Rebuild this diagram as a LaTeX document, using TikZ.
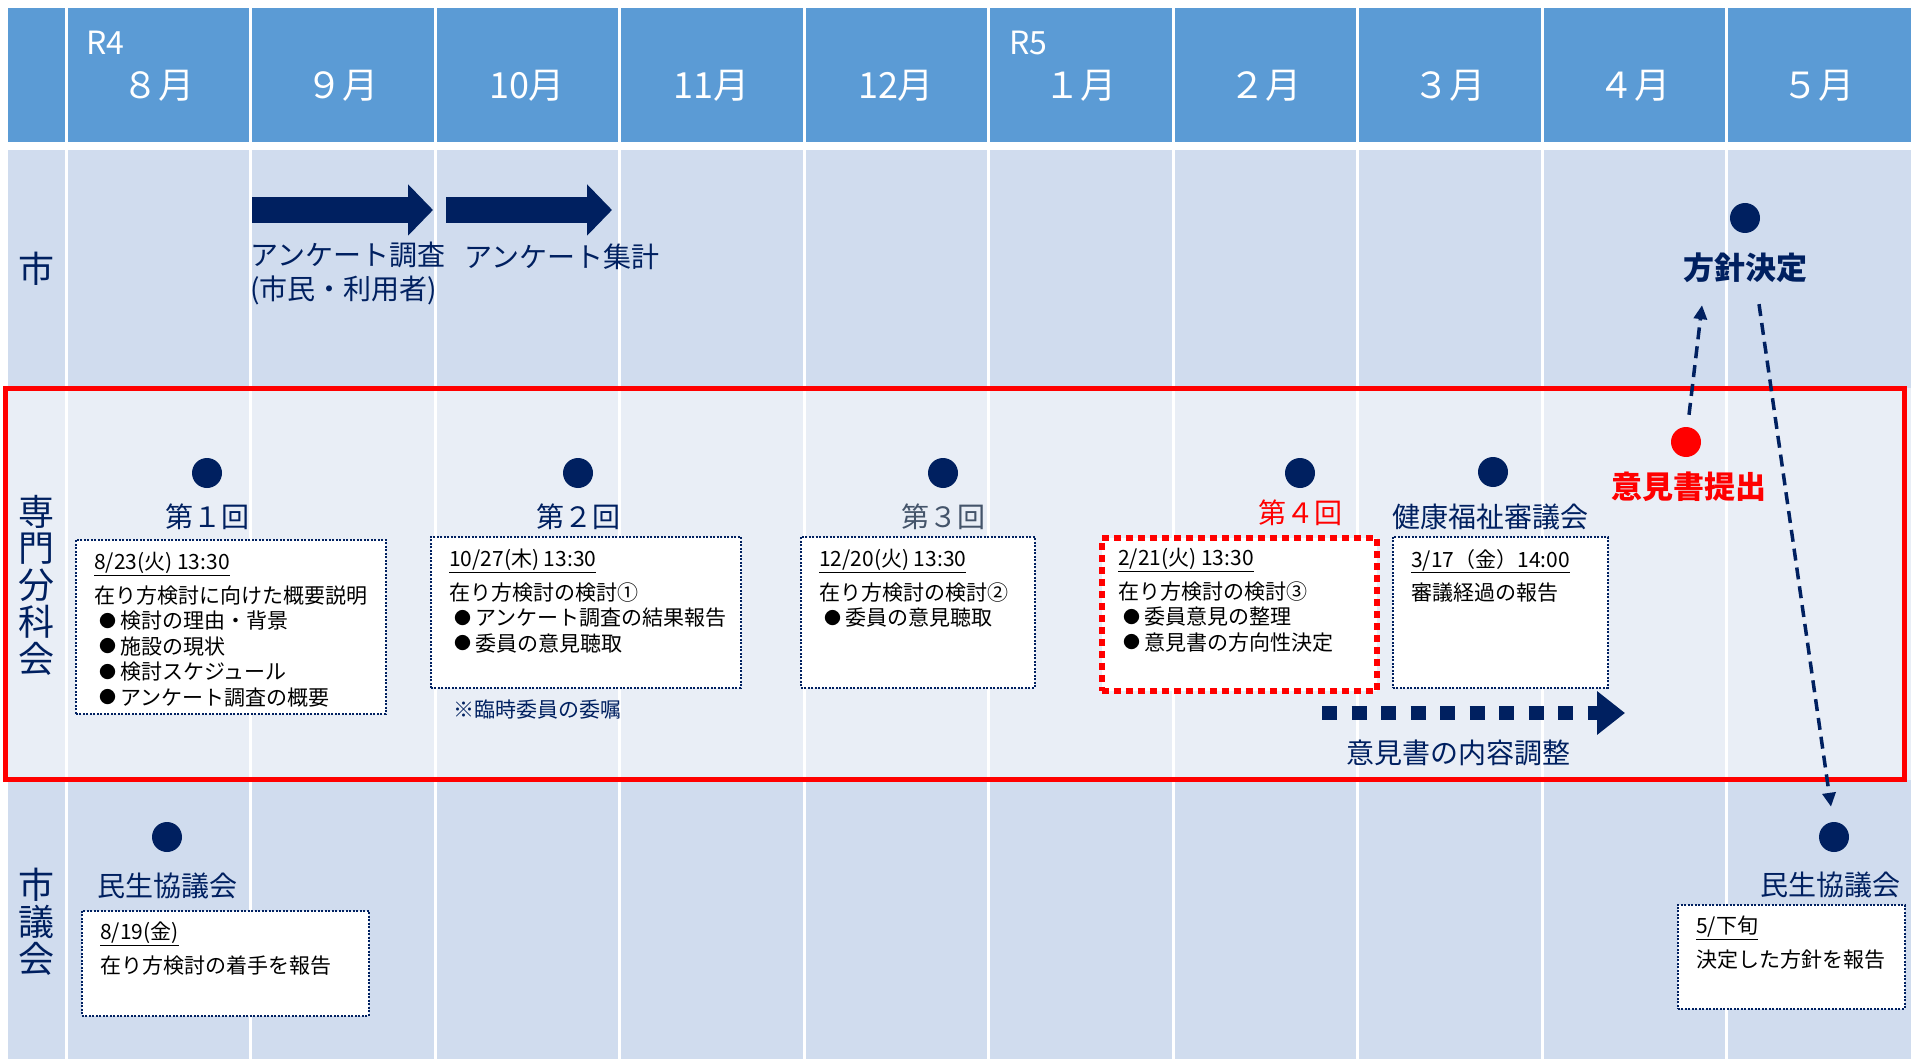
\documentclass[tikz,border=0pt]{standalone}
\usepackage{fontspec}
\setmainfont{Noto Sans CJK JP}
\usetikzlibrary{arrows.meta, calc}

\definecolor{navy}{HTML}{002060}
\definecolor{headblue}{HTML}{5B9BD5}
\definecolor{rowpale}{HTML}{D0DCEE}
\definecolor{rowlight}{HTML}{E9EEF6}
\definecolor{slate}{HTML}{44546A}

\newcommand{\itemdot}{\hspace*{5pt}\raisebox{1.5pt}{\fontsize{17}{17}\selectfont●}\hspace{4pt}}

\begin{document}
\begin{tikzpicture}[x=1pt, y=-1pt,
    month/.style={text=white, inner sep=0pt, font=\fontsize{36}{36}\selectfont},
    rowname/.style={text=navy, align=center, inner sep=0pt, font=\fontsize{36}{36.8}\selectfont},
    dot/.style={circle, fill=navy, minimum size=30pt, inner sep=0pt},
    tag/.style={text=navy, inner sep=0pt, font=\fontsize{28}{34}\selectfont},
    bigtag/.style={inner sep=0pt, font=\fontsize{31}{31}\selectfont\bfseries},
    memo/.style={draw=navy, line width=1.5pt, dash pattern=on 2pt off 1.5pt, fill=white, anchor=north west, inner sep=0pt},
    memored/.style={memo, draw=red, line width=5.5pt, dash pattern=on 7pt off 5pt},
    memotext/.style={anchor=north west, align=left, inner sep=0pt, font=\fontsize{21}{25.5}\selectfont},
    blockarrow/.style={navy, line width=26pt, -{Triangle[length=25pt, width=50pt]}},
    dasharrow/.style={navy, line width=3.5pt, dash pattern=on 12pt off 7pt, -{Triangle[length=14pt, width=13pt]}},
    dotarrow/.style={navy, line width=14pt, dash pattern=on 15pt off 14.5pt, -{Triangle[length=28pt, width=42pt]}}
]

    \useasboundingbox (0,0) rectangle (1911,1059);
    \fill[white] (0,0) rectangle (1911,1059);

    % table
    \fill[headblue] (8,8) rectangle (1911,142);
    \fill[rowpale] (8,150) rectangle (1911,388);
    \fill[rowlight] (8,388) rectangle (1911,780);
    \fill[rowpale] (8,780) rectangle (1911,1059);
    \foreach \i in {0,...,9}
        \draw[white, line width=3pt] (66+184.5*\i,8) -- (66+184.5*\i,1059);

    \foreach \m [count=\i from 0] in {８月,９月,10月,11月,12月,１月,２月,３月,４月,５月}
        \node[month] (m\i) at (158+184.5*\i,86) {\m};
    \node[month, anchor=west, font=\fontsize{32}{32}\selectfont] (r4) at (86,43) {R4};
    \node[month, anchor=west, font=\fontsize{32}{32}\selectfont] (r5) at (1009,43) {R5};

    \node[rowname] (shi) at (37,269) {市};
    \node[rowname] (bunka) at (37,585) {専\\門\\分\\科\\会};
    \node[rowname] (gikai) at (37,922) {市\\議\\会};

    \draw[red, line width=5pt] (5,388) rectangle (1904,779);

    % row 1
    \coordinate (svyA) at (252,210);
    \coordinate (svyB) at (433,210);
    \coordinate (sumA) at (446,210);
    \coordinate (sumB) at (612,210);
    \draw[blockarrow] (svyA) -- (svyB);
    \draw[blockarrow] (sumA) -- (sumB);
    \node[tag, anchor=north west, align=left] (svy) at (250,242) {アンケート調査\\(市民・利用者)};
    \node[tag, anchor=west] (sum) at (464,257) {アンケート集計};

    \node[dot] (kettei) at (1745,218) {};
    \node[bigtag, text=navy] (housin) at (1745,268) {方針決定};

    % row 2
    \node[dot] (d1) at (207,473) {};
    \node[dot] (d2) at (578,473) {};
    \node[dot] (d3) at (943,473) {};
    \node[dot] (d4) at (1300,473) {};
    \node[dot] (d5) at (1493,472) {};
    \node[dot, fill=red] (iken) at (1686,442) {};

    \node[tag] (k1) at (207,517) {第１回};
    \node[tag] (k2) at (578,517) {第２回};
    \node[tag, text=slate] (k3) at (943,517) {第３回};
    \node[tag, text=red] (k4) at (1300,513) {第４回};
    \node[tag] (k5) at (1490,517) {健康福祉審議会};
    \node[bigtag, text=red] (teishutsu) at (1689,487) {意見書提出};

    \node[memo, minimum width=310pt, minimum height=174pt] (b1) at (75,539) {};
    \node[memo, minimum width=310pt, minimum height=151pt] (b2) at (430,536) {};
    \node[memo, minimum width=234pt, minimum height=151pt] (b3) at (800,536) {};
    \node[memored, minimum width=275pt, minimum height=153pt] (b4) at (1099,535) {};
    \node[memo, minimum width=215pt, minimum height=151pt] (b5) at (1392,536) {};

    \node[memotext] (t1) at ([shift={(19,13)}]b1.north west)
        {\underline{8/23(火) 13:30}\\[8pt]在り方検討に向けた概要説明\\\itemdot 検討の理由・背景\\\itemdot 施設の現状\\\itemdot 検討スケジュール\\\itemdot アンケート調査の概要};
    \node[memotext] (t2) at ([shift={(19,13)}]b2.north west)
        {\underline{10/27(木) 13:30}\\[8pt]在り方検討の検討①\\\itemdot アンケート調査の結果報告\\\itemdot 委員の意見聴取};
    \node[memotext] (t3) at ([shift={(19,13)}]b3.north west)
        {\underline{12/20(火) 13:30}\\[8pt]在り方検討の検討②\\\itemdot 委員の意見聴取};
    \node[memotext] (t4) at ([shift={(19,13)}]b4.north west)
        {\underline{2/21(火) 13:30}\\[8pt]在り方検討の検討③\\\itemdot 委員意見の整理\\\itemdot 意見書の方向性決定};
    \node[memotext] (t5) at ([shift={(19,13)}]b5.north west)
        {\underline{3/17（金）14:00}\\[8pt]審議経過の報告};
    \node[memotext, text=navy, anchor=west] (rinji) at (453,710) {※臨時委員の委嘱};

    \coordinate (adjA) at (1322,713);
    \coordinate (adjB) at (1625,713);
    \draw[dotarrow] (adjA) -- (adjB);
    \node[tag] (adj) at (1458,753) {意見書の内容調整};

    % row 3
    \node[dot] (kyo1) at (167,837) {};
    \node[dot] (kyo2) at (1834,837) {};
    \node[tag] (kl1) at (167,886) {民生協議会};
    \node[tag] (kl2) at (1830,885) {民生協議会};

    \node[memo, minimum width=287pt, minimum height=105pt] (b6) at (81,910) {};
    \node[memo, minimum width=227pt, minimum height=104pt] (b7) at (1677,904) {};
    \node[memotext] (t6) at ([shift={(19,12)}]b6.north west)
        {\underline{8/19(金)}\\[8pt]在り方検討の着手を報告};
    \node[memotext] (t7) at ([shift={(19,12)}]b7.north west)
        {\underline{5/下旬}\\[8pt]決定した方針を報告};

    % links
    \draw[dasharrow] ([shift={(3,-12)}]iken.north) -- ([shift={(-43,22)}]housin.south);
    \draw[dasharrow] ([shift={(14,21)}]housin.south) -- ([shift={(-3,-15)}]kyo2.north);

\end{tikzpicture}
\end{document}
